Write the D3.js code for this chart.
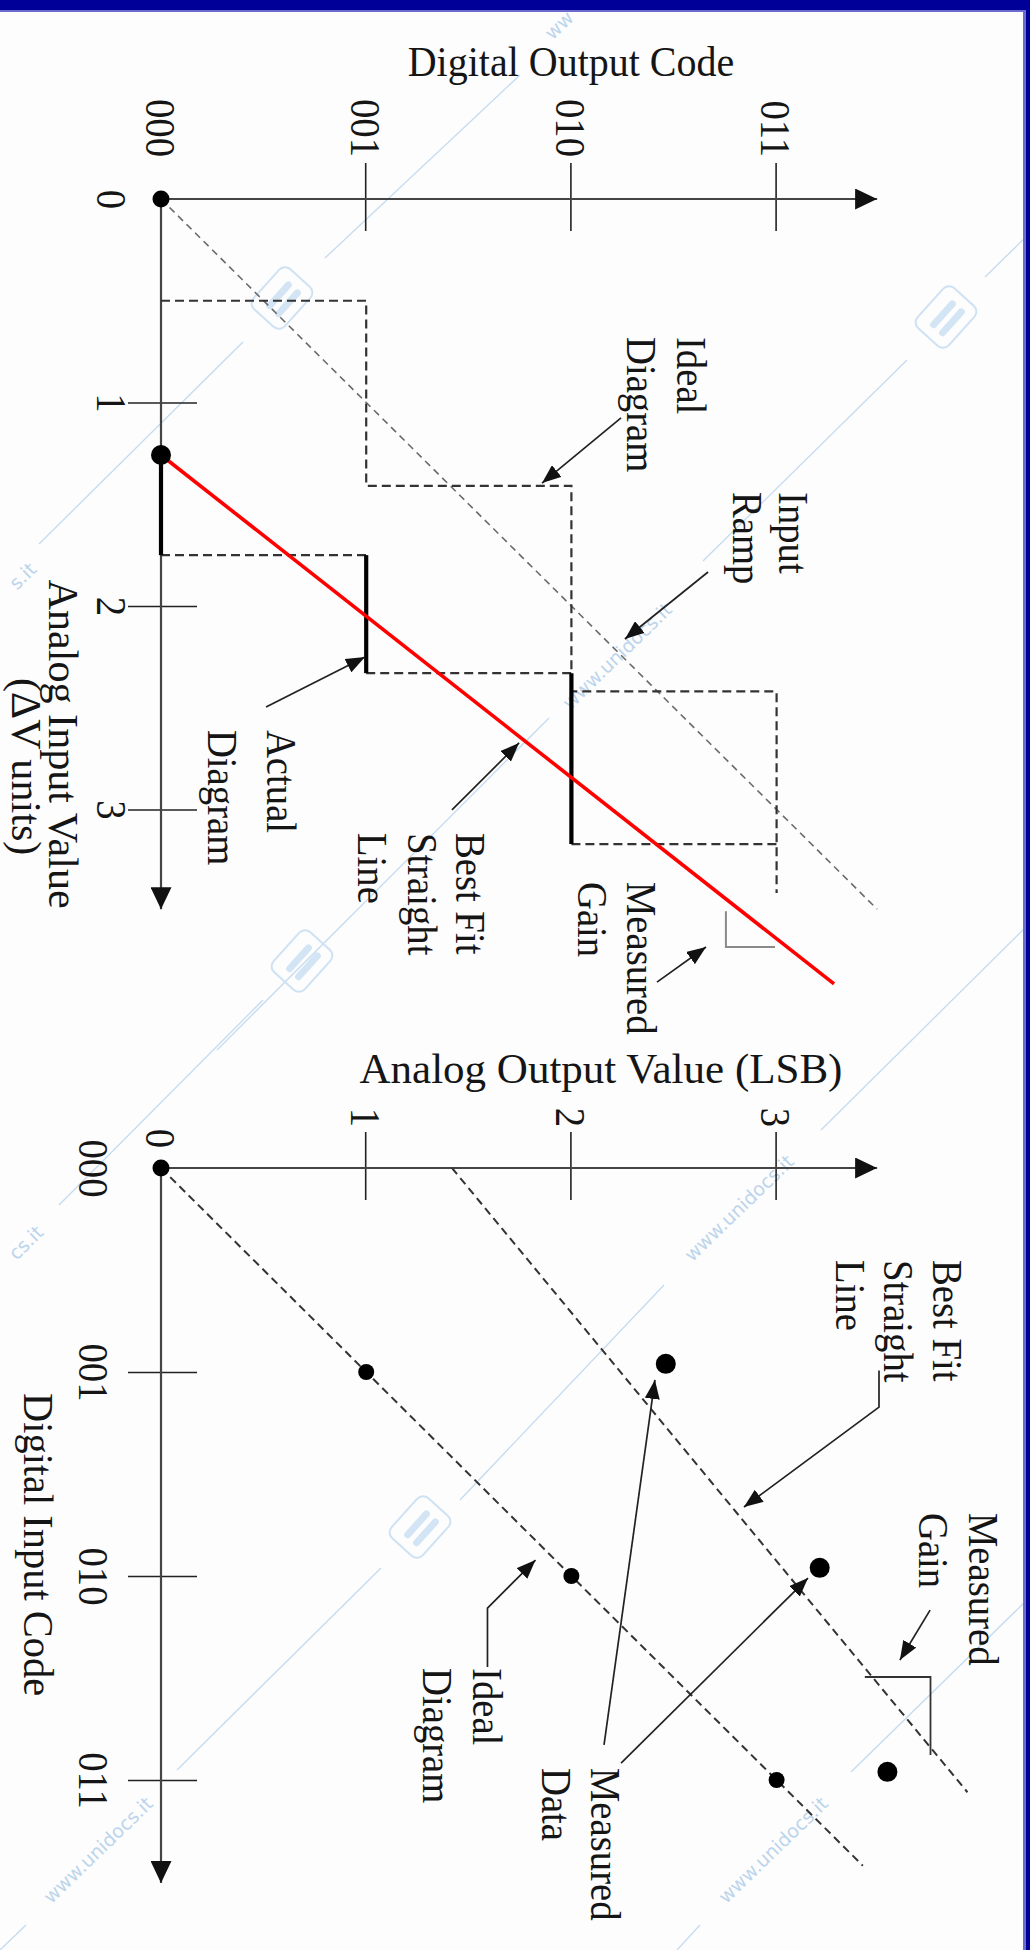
<!DOCTYPE html>
<html>
<head>
<meta charset="utf-8">
<script src="https://cdn.jsdelivr.net/npm/d3@7"></script>
<style>
  html, body { margin: 0; padding: 0; background: #ffffff; }
  svg text { font-family: "Liberation Serif", "Times New Roman", serif; fill: #151515; }
  svg text.wm { font-family: "DejaVu Sans", sans-serif; fill: #bcd5ec; }
</style>
</head>
<body>
<svg id="fig" width="1030" height="1950"></svg>
<script>
// ---------------- data ----------------
const codeTicks   = [0, 1, 2, 3];
const codeLabels  = ["000", "001", "010", "011"];
const analogTicks = [0, 1, 2, 3];
const analogLabels = ["0", "1", "2", "3"];

// Upper panel (A/D): points are [analog input (ΔV units), digital output code]
const inputRamp      = [[0, 0], [3.49, 3.49]];
const idealSwitch    = [0.5, 1.41, 2.42];        // ideal code transitions
const idealLastEnd   = 3.41;                      // end of the last ideal step
const actualSwitch   = [1.258, 1.75, 2.33, 3.17]; // start of code 000, then transitions
const bestFitA       = [[1.258, 0], [3.857, 3.28]];
const gainMarkA      = [[3.5, 2.753], [3.676, 2.753], [3.676, 2.992]];

// Lower panel (D/A): points are [digital input code, analog output (LSB)]
const idealLineB     = [[0, 0], [3.42, 3.42]];
const idealPointsB   = [[1, 1], [2, 2], [3, 3]];
const measuredB      = [[0.96, 2.46], [1.96, 3.21], [2.96, 3.54]];
const bestFitB       = [[0, 1.418], [3.06, 3.93]];
const gainMarkB      = [[2.495, 3.43], [2.495, 3.75], [2.877, 3.75]];

// ---------------- setup ----------------
const svg = d3.select("#fig");
const W = 1030, H = 1950;
const FONT = 43;      // label size
const SQUEEZE = 0.9;  // narrow serif face

svg.append("rect").attr("width", W).attr("height", H).attr("fill", "#fdfdfd");

// faint site watermark behind the figure
const wm = svg.append("g").attr("class", "watermark");
const wmLines = [
  [[325, 258], [520, 75]], [[39, 544], [243, 342]], [[985, 277], [1030, 233]],
  [[703, 561], [907, 360]], [[217, 1050], [549, 718]], [[821, 1130], [1025, 928]],
  [[59, 1205], [263, 1000]], [[460, 1500], [664, 1285]], [[177, 1770], [381, 1568]],
  [[851, 1772], [1030, 1597]], [[0, 1950], [26, 1925]], [[677, 1950], [700, 1925]]
];
wmLines.forEach(s => {
  wm.append("line").attr("x1", s[0][0]).attr("y1", s[0][1]).attr("x2", s[1][0]).attr("y2", s[1][1])
    .attr("stroke", "#c4dbf0").attr("stroke-width", 1.3);
});
[
  { t: "www.unidocs.it", x: 617, y: 656, a: "middle" },
  { t: "www.unidocs.it", x: 739, y: 1208, a: "middle" },
  { t: "www.unidocs.it", x: 773, y: 1850, a: "middle" },
  { t: "www.unidocs.it", x: 98,  y: 1850, a: "middle" },
  { t: "cs.it",          x: 40,  y: 1229, a: "end" },
  { t: "s.it",           x: 33,  y: 566,  a: "end" },
  { t: "ww",             x: 548, y: 36,   a: "start" }
].forEach(p => {
  wm.append("text").attr("class", "wm")
    .attr("transform", `translate(${p.x},${p.y}) rotate(-44)`)
    .attr("text-anchor", p.a).attr("dy", "0.35em").attr("font-size", 19)
    .text(p.t);
});
[[282, 298], [946, 317], [302, 961], [420, 1527]].forEach(p => {
  const lg = wm.append("g").attr("transform", `translate(${p[0]},${p[1]}) rotate(-48)`);
  lg.append("rect").attr("x", -27).attr("y", -21).attr("width", 54).attr("height", 42).attr("rx", 8)
    .attr("fill", "none").attr("stroke", "#cfe2f4").attr("stroke-width", 2);
  lg.append("line").attr("x1", -14).attr("y1", -4).attr("x2", 14).attr("y2", -4)
    .attr("stroke", "#d3e5f5").attr("stroke-width", 7).attr("stroke-linecap", "round");
  lg.append("line").attr("x1", -14).attr("y1", 8).attr("x2", 14).attr("y2", 8)
    .attr("stroke", "#d3e5f5").attr("stroke-width", 7).attr("stroke-linecap", "round");
});

const defs = svg.append("defs");
function marker(id, len, wid) {
  defs.append("marker")
    .attr("id", id)
    .attr("viewBox", "0 0 10 10")
    .attr("refX", 10).attr("refY", 5)
    .attr("markerWidth", len).attr("markerHeight", wid)
    .attr("markerUnits", "userSpaceOnUse")
    .attr("preserveAspectRatio", "none")
    .attr("orient", "auto")
    .append("path").attr("d", "M0,0L10,5L0,10z").attr("fill", "#111");
}
marker("axisHead", 22, 21);
marker("noteHead", 19, 15);

function squeeze(sel, k) {
  sel.each(function () {
    const n = this.getComputedTextLength();
    d3.select(this).attr("textLength", n * (k || SQUEEZE)).attr("lengthAdjust", "spacingAndGlyphs");
  });
}

// Each panel is laid out in landscape orientation and turned a quarter turn clockwise.
function panel(ox, oy) {
  return svg.append("g").attr("transform", `translate(${ox},${oy}) rotate(90)`);
}

function drawAxes(g, xs, ys, opt) {
  // horizontal (in panel frame) axis
  const ax = g.append("g").call(
    d3.axisBottom(xs).tickValues(opt.xTicks).tickFormat((d, i) => opt.xLabels[i]).tickSize(0)
  );
  ax.select(".domain").remove();
  ax.selectAll(".tick line")
    .attr("y1", -36).attr("y2", 33)
    .attr("stroke", "#222").attr("stroke-width", 1.6)
    .filter(d => d === 0).remove();
  ax.selectAll(".tick text")
    .attr("y", opt.xLabelBase).attr("dy", 0)
    .attr("font-size", FONT).attr("fill", "#151515")
    .call(squeeze);

  // vertical (in panel frame) axis
  const ay = g.append("g").call(
    d3.axisLeft(ys).tickValues(opt.yTicks).tickFormat((d, i) => opt.yLabels[i]).tickSize(0)
  );
  ay.select(".domain").remove();
  ay.selectAll(".tick line")
    .attr("x1", -36).attr("x2", 32)
    .attr("stroke", "#222").attr("stroke-width", 1.6)
    .filter(d => d === 0).remove();
  ay.selectAll(".tick text")
    .attr("x", d => (d === 0 ? opt.yZeroEnd : opt.yLabelEnd)).attr("dy", "0.34em")
    .attr("font-size", FONT).attr("fill", "#151515")
    .call(squeeze);

  // axis lines with arrow heads
  g.append("line")
    .attr("x1", xs(0)).attr("y1", ys(0)).attr("x2", xs(opt.xEnd)).attr("y2", ys(0))
    .attr("stroke", "#444").attr("stroke-width", 2.2).attr("marker-end", "url(#axisHead)");
  g.append("line")
    .attr("x1", xs(0)).attr("y1", ys(0)).attr("x2", xs(0)).attr("y2", ys(opt.yEnd))
    .attr("stroke", "#444").attr("stroke-width", 2.2).attr("marker-end", "url(#axisHead)");
}

function note(g, xs, ys, lines) {
  lines.forEach(l => {
    g.append("text")
      .attr("x", xs(l.x)).attr("y", ys(l.y))
      .attr("font-size", FONT)
      .attr("text-anchor", l.anchor || "start")
      .text(l.t)
      .call(squeeze, l.k);
  });
}

function arrow(g, xs, ys, pts) {
  g.append("path")
    .attr("d", d3.line().x(p => xs(p[0])).y(p => ys(p[1]))(pts))
    .attr("fill", "none").attr("stroke", "#222").attr("stroke-width", 1.7)
    .attr("marker-end", "url(#noteHead)");
}

// ---------------- upper panel: A/D conversion ----------------
const gA = panel(161, 199);
const xA = d3.scaleLinear().domain([0, 3]).range([0, 610.5]);   // analog input
const yA = d3.scaleLinear().domain([0, 3]).range([0, -615.6]);  // output code
const lineA = d3.line().x(p => xA(p[0])).y(p => yA(p[1]));

drawAxes(gA, xA, yA, {
  xTicks: analogTicks, xLabels: analogLabels, xLabelBase: 64,
  yTicks: codeTicks, yLabels: codeLabels, yLabelEnd: -42, yZeroEnd: -42,
  xEnd: 3.49, yEnd: 3.49
});

// input ramp
gA.append("path").attr("d", lineA(inputRamp))
  .attr("fill", "none").attr("stroke", "#6a6a6a").attr("stroke-width", 1.6)
  .attr("stroke-dasharray", "7,5");

// ideal staircase
const idealPath = [];
idealSwitch.forEach((s, k) => { idealPath.push([s, k], [s, k + 1]); });
idealPath.push([idealLastEnd, idealSwitch.length]);
gA.append("path").attr("d", lineA(idealPath))
  .attr("fill", "none").attr("stroke", "#333").attr("stroke-width", 2.2)
  .attr("stroke-dasharray", "9,5");

// actual staircase: dashed risers, solid treads
for (let k = 1; k < actualSwitch.length; k++) {
  gA.append("path").attr("d", lineA([[actualSwitch[k], k - 1], [actualSwitch[k], k]]))
    .attr("fill", "none").attr("stroke", "#333").attr("stroke-width", 2.2)
    .attr("stroke-dasharray", "9,5");
}
for (let k = 0; k < actualSwitch.length - 1; k++) {
  gA.append("path").attr("d", lineA([[actualSwitch[k], k], [actualSwitch[k + 1], k]]))
    .attr("fill", "none").attr("stroke", "#000").attr("stroke-width", 4.2);
}

// best fit straight line
gA.append("path").attr("d", lineA(bestFitA))
  .attr("fill", "none").attr("stroke", "#ff0000").attr("stroke-width", 3.6);

// gain mark
gA.append("path").attr("d", lineA(gainMarkA))
  .attr("fill", "none").attr("stroke", "#8a8a8a").attr("stroke-width", 2);

// dots
gA.append("circle").attr("cx", xA(0)).attr("cy", yA(0)).attr("r", 8.5).attr("fill", "#000");
gA.append("circle").attr("cx", xA(bestFitA[0][0])).attr("cy", yA(bestFitA[0][1])).attr("r", 10).attr("fill", "#000");

// annotations
note(gA, xA, yA, [
  { t: "Ideal",    x: 0.678, y: 2.515 },
  { t: "Diagram",  x: 0.678, y: 2.271 },
  { t: "Input",    x: 1.44,  y: 3.012 },
  { t: "Ramp",     x: 1.44,  y: 2.788 },
  { t: "Actual",   x: 2.609, y: 0.517 },
  { t: "Diagram",  x: 2.609, y: 0.229 },
  { t: "Best Fit", x: 3.115, y: 1.438 },
  { t: "Straight", x: 3.115, y: 1.204 },
  { t: "Line",     x: 3.115, y: 0.96 },
  { t: "Measured", x: 3.356, y: 2.271 },
  { t: "Gain",     x: 3.356, y: 2.032 },
  { t: "Analog Input Value", x: 1.87, y: -0.546, k: 0.98 },
  { t: "(\u0394V units)",     x: 2.354, y: -0.726, k: 0.98 }
]);
arrow(gA, xA, yA, [[1.076, 2.242], [1.396, 1.857]]);
arrow(gA, xA, yA, [[1.833, 2.666], [2.162, 2.261]]);
arrow(gA, xA, yA, [[2.496, 0.512], [2.251, 0.994]]);
arrow(gA, xA, yA, [[3.002, 1.418], [2.673, 1.745]]);
arrow(gA, xA, yA, [[3.848, 2.417], [3.676, 2.656]]);

gA.append("text")
  .attr("transform", `translate(${xA(-0.604)},${yA(1.998)}) rotate(-90)`)
  .attr("text-anchor", "middle").attr("font-size", FONT)
  .text("Digital Output Code").call(squeeze, 0.93);

// ---------------- lower panel: D/A conversion ----------------
const gB = panel(161, 1168);
const xB = d3.scaleLinear().domain([0, 3]).range([0, 612]);     // input code
const yB = d3.scaleLinear().domain([0, 3]).range([0, -615.6]);  // analog output
const lineB = d3.line().x(p => xB(p[0])).y(p => yB(p[1]));

drawAxes(gB, xB, yB, {
  xTicks: codeTicks, xLabels: codeLabels, xLabelBase: 82,
  yTicks: analogTicks, yLabels: analogLabels, yLabelEnd: -41, yZeroEnd: -20,
  xEnd: 3.505, yEnd: 3.49
});

gB.append("path").attr("d", lineB(idealLineB))
  .attr("fill", "none").attr("stroke", "#333").attr("stroke-width", 2)
  .attr("stroke-dasharray", "8,5");
gB.append("path").attr("d", lineB(bestFitB))
  .attr("fill", "none").attr("stroke", "#333").attr("stroke-width", 2)
  .attr("stroke-dasharray", "8,5");
gB.append("path").attr("d", lineB(gainMarkB))
  .attr("fill", "none").attr("stroke", "#333").attr("stroke-width", 1.8);

gB.append("circle").attr("cx", xB(0)).attr("cy", yB(0)).attr("r", 8.5).attr("fill", "#000");
gB.selectAll(".ideal").data(idealPointsB).join("circle")
  .attr("cx", d => xB(d[0])).attr("cy", d => yB(d[1])).attr("r", 8).attr("fill", "#000");
gB.selectAll(".meas").data(measuredB).join("circle")
  .attr("cx", d => xB(d[0])).attr("cy", d => yB(d[1])).attr("r", 10).attr("fill", "#000");

note(gB, xB, yB, [
  { t: "Best Fit", x: 0.451, y: 3.762 },
  { t: "Straight", x: 0.451, y: 3.523 },
  { t: "Line",     x: 0.451, y: 3.289 },
  { t: "Measured", x: 1.691, y: 3.938 },
  { t: "Gain",     x: 1.691, y: 3.694 },
  { t: "Ideal",    x: 2.451, y: 1.52 },
  { t: "Diagram",  x: 2.451, y: 1.277 },
  { t: "Measured", x: 2.941, y: 2.096 },
  { t: "Data",     x: 2.941, y: 1.857 },
  { t: "Digital Input Code", x: 1.103, y: -0.668, k: 0.94 }
]);
arrow(gB, xB, yB, [[0.993, 3.499], [1.172, 3.499], [1.662, 2.841]]);
arrow(gB, xB, yB, [[2.167, 3.748], [2.412, 3.601]]);
arrow(gB, xB, yB, [[2.446, 1.591], [2.157, 1.591], [1.922, 1.825]]);
arrow(gB, xB, yB, [[2.828, 2.159], [1.039, 2.407]]);
arrow(gB, xB, yB, [[2.917, 2.242], [2.01, 3.153]]);

gB.append("text")
  .attr("transform", `translate(${xB(-0.417)},${yB(2.144)}) rotate(-90)`)
  .attr("text-anchor", "middle").attr("font-size", FONT)
  .text("Analog Output Value (LSB)").call(squeeze, 1.0);

// ---------------- slide frame ----------------
svg.append("rect").attr("x", 0).attr("y", 0).attr("width", W).attr("height", 10).attr("fill", "#000099");
svg.append("rect").attr("x", 0).attr("y", 10).attr("width", W).attr("height", 2).attr("fill", "#6b6bd0");
svg.append("rect").attr("x", 1026).attr("y", 0).attr("width", 4).attr("height", H).attr("fill", "#000099");
svg.append("rect").attr("x", 1023).attr("y", 10).attr("width", 3).attr("height", H).attr("fill", "#6b6bd0");
</script>
</body>
</html>
